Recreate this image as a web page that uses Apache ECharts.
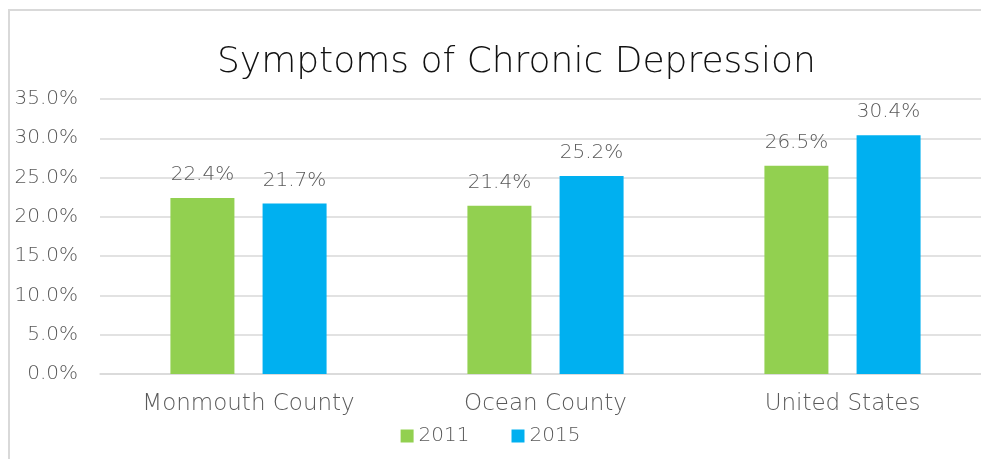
<!DOCTYPE html>
<html>
<head>
<meta charset="utf-8">
<script src="https://cdn.jsdelivr.net/npm/echarts@6/dist/echarts.min.js"></script>
<style>
  html, body { margin:0; padding:0; background:#fff; }
  .frame {
    position:absolute; left:8px; top:9px; width:990px; height:470px;
    border-left:2px solid #d9d9d9; border-top:2px solid #d9d9d9;
  }
  #chart { position:absolute; left:0; top:0; width:981px; height:459px; }
</style>
</head>
<body>
<div class="frame"></div>
<div id="chart"></div>
<script>
  var categories = ['Monmouth County', 'Ocean County', 'United States'];
  var values2011 = [22.4, 21.4, 26.5];
  var values2015 = [21.7, 25.2, 30.4];
  var seriesNames = ['2011', '2015'];

  var font = '"DejaVu Sans", sans-serif';
  var myChart = echarts.init(document.getElementById('chart'));

  function barSeries(name, data, color) {
    return {
      name: name,
      type: 'bar',
      data: data,
      barWidth: 64,
      barGap: '44%',
      itemStyle: { color: color },
      label: {
        show: true,
        position: 'top',
        distance: 13,
        fontFamily: font,
        fontSize: 20,
        fontWeight: 300,
        color: '#595959',
        formatter: function (p) { return p.value.toFixed(1) + '%'; }
      }
    };
  }

  var option = {
    animation: false,
    title: {
      text: 'Symptoms of Chronic Depression',
      left: 217,
      top: 45,
      padding: 0,
      textStyle: { fontFamily: font, fontSize: 36, fontWeight: 300, color: '#111' }
    },
    // 图例放在底部中间
    legend: {
      bottom: 8,
      left: 'center',
      itemWidth: 13,
      itemHeight: 13,
      itemGap: 42,
      icon: 'rect',
      textStyle: { fontFamily: font, fontSize: 20, fontWeight: 300, color: '#595959' },
      data: seriesNames
    },
    grid: { left: 100, width: 891, top: 99, bottom: 85, outerBoundsMode: 'none' },
    xAxis: {
      type: 'category',
      data: categories,
      axisTick: { show: false },
      axisLine: { lineStyle: { color: '#d9d9d9', width: 1.5 } },
      axisLabel: { fontFamily: font, fontSize: 23, fontWeight: 300, color: '#595959', margin: 19 }
    },
    yAxis: {
      type: 'value',
      min: 0,
      max: 35,
      interval: 5,
      axisLabel: {
        fontFamily: font, fontSize: 20, fontWeight: 300, color: '#595959', margin: 22,
        formatter: function (v) { return v.toFixed(1) + '%'; }
      },
      splitLine: { lineStyle: { color: '#d9d9d9', width: 1.5 } }
    },
    series: [
      barSeries(seriesNames[0], values2011, '#92d050'),
      barSeries(seriesNames[1], values2015, '#00b0f0')
    ]
  };
  myChart.setOption(option, true);
</script>
</body>
</html>
